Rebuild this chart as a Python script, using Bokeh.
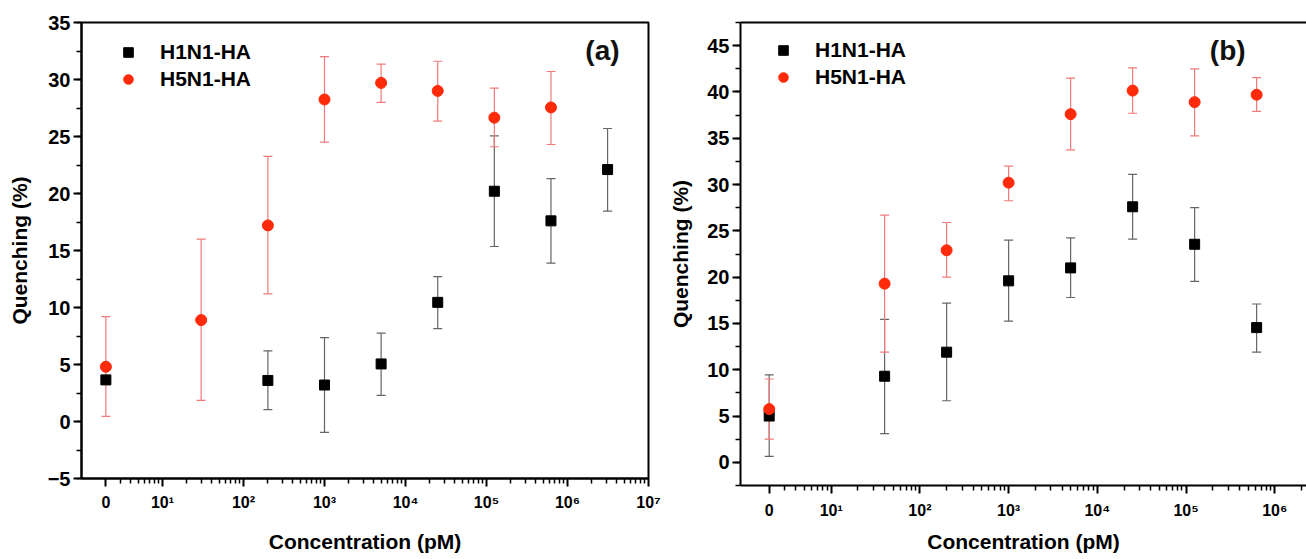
from bokeh.plotting import figure
from bokeh.models import (ColumnDataSource, Whisker, TeeHead, FixedTicker, SingleIntervalTicker,
                          Legend, LegendItem, Label, LogAxis, Range1d)
from bokeh.layouts import row
from bokeh.embed import file_html
from bokeh.resources import INLINE

# ---------------- data ----------------
ZERO_AT = 2  # place on the log axis where the "0 pM" sample is drawn

# panel (a)
a_h1_conc = [0, 200, 1000, 5000, 25000, 125000, 625000, 3125000]
a_h1_val = [3.65, 3.6, 3.2, 5.05, 10.45, 20.2, 17.6, 22.1]
a_h1_lo = [3.65, 1.05, -0.95, 2.3, 8.15, 15.35, 13.9, 18.45]
a_h1_hi = [3.65, 6.2, 7.35, 7.75, 12.7, 25.05, 21.3, 25.7]

a_h5_conc = [0, 30, 200, 1000, 5000, 25000, 125000, 625000]
a_h5_val = [4.8, 8.9, 17.2, 28.25, 29.7, 29.0, 26.65, 27.55]
a_h5_lo = [0.45, 1.85, 11.2, 24.5, 28.0, 26.35, 24.1, 24.3]
a_h5_hi = [9.2, 16.0, 23.25, 32.0, 31.35, 31.6, 29.25, 30.7]

# panel (b)
b_h1_conc = [0, 40, 200, 1000, 5000, 25000, 125000, 625000]
b_h1_val = [5.0, 9.3, 11.9, 19.6, 21.0, 27.6, 23.55, 14.55]
b_h1_lo = [0.65, 3.1, 6.65, 15.25, 17.8, 24.1, 19.55, 11.9]
b_h1_hi = [9.45, 15.45, 17.2, 24.0, 24.25, 31.1, 27.5, 17.1]

b_h5_conc = [0, 40, 200, 1000, 5000, 25000, 125000, 625000]
b_h5_val = [5.75, 19.3, 22.9, 30.2, 37.6, 40.15, 38.9, 39.7]
b_h5_lo = [2.5, 11.9, 20.0, 28.25, 33.75, 37.7, 35.25, 37.9]
b_h5_hi = [9.0, 26.7, 25.9, 32.0, 41.5, 42.6, 42.5, 41.55]

series_names = ["H1N1-HA", "H5N1-HA"]
x_major = [ZERO_AT, 10, 100, 1000, 10**4, 10**5, 10**6, 10**7]
x_major_labels = ["0", "10\u00b9", "10\u00b2", "10\u00b3", "10\u2074", "10\u2075", "10\u2076", "10\u2077"]

FONT = "Liberation Sans"
RED = "#ff2a0a"
RED_BAR = "#f07a7a"
BLACK = "#000000"
BLACK_BAR = "#666666"


def src(conc, val, lo, hi):
    xs = [ZERO_AT if c == 0 else c for c in conc]
    return ColumnDataSource(dict(x=xs, y=val, lo=lo, hi=hi))


def whisker(p, s, color):
    w = Whisker(source=s, base="x", lower="lo", upper="hi", line_color=color, line_width=1.2,
                upper_head=TeeHead(size=9, line_color=color, line_width=1.2),
                lower_head=TeeHead(size=9, line_color=color, line_width=1.2))
    p.add_layout(w)


def style_axes(p, xmax_exp, ylabel_standoff, xlabel_standoff, xtick_standoff):
    xa = p.below[0]
    ya = p.left[0]
    minors = [k for k in range(3, 10)] + [k * 10**d for d in range(1, xmax_exp + 1) for k in range(2, 10)]
    xa.ticker = FixedTicker(ticks=x_major[:xmax_exp + 1], minor_ticks=minors)
    xa.major_label_overrides = {t: l for t, l in zip(x_major, x_major_labels)}
    for ax in (xa, ya):
        ax.axis_line_width = 2
        ax.axis_line_color = "black"
        ax.major_tick_line_width = 2
        ax.minor_tick_line_width = 1.5
        ax.major_tick_line_color = "black"
        ax.minor_tick_line_color = "black"
        ax.major_tick_in = 0
        ax.minor_tick_in = 0
        ax.major_tick_out = 8
        ax.minor_tick_out = 5
        ax.major_label_text_font = FONT
        ax.major_label_text_font_style = "bold"
        ax.major_label_text_color = "black"
        ax.axis_label_text_font = FONT
        ax.axis_label_text_font_style = "bold"
        ax.axis_label_text_font_size = "21px"
        ax.axis_label_text_color = "black"
    xa.major_label_text_font_size = "16px"
    ya.major_label_text_font_size = "20px"
    ya.major_label_standoff = 3
    xa.major_label_standoff = xtick_standoff
    xa.axis_label = "Concentration (pM)"
    ya.axis_label = "Quenching (%)"
    ya.axis_label_standoff = ylabel_standoff
    xa.axis_label_standoff = xlabel_standoff
    ya.ticker = SingleIntervalTicker(interval=5, num_minor_ticks=2)
    p.grid.visible = False


def panel(width, height, xr, yr, borders, data_h1, data_h5, xmax_exp, tag, tag_xy, legend_margin, legend_gw,
          legend_standoff, ylabel_standoff, xlabel_standoff, xtick_standoff, outline):
    p = figure(width=width, height=height, x_axis_type="log", x_range=Range1d(*xr), y_range=Range1d(*yr),
               output_backend="svg", toolbar_location=None,
               min_border_left=borders[0], min_border_right=borders[1],
               min_border_top=borders[2], min_border_bottom=borders[3])
    p.frame_align = False
    p.background_fill_color = "white"
    p.border_fill_color = "white"
    style_axes(p, xmax_exp, ylabel_standoff, xlabel_standoff, xtick_standoff)
    if outline:
        p.outline_line_color = "black"
        p.outline_line_width = 2
        p.outline_line_alpha = 1
    else:
        p.outline_line_color = None
        top = LogAxis(ticker=FixedTicker(ticks=[], minor_ticks=[]), axis_line_width=2, axis_line_color="black",
                      major_tick_line_color=None, minor_tick_line_color=None,
                      major_tick_out=0, minor_tick_out=0, major_label_standoff=0,
                      major_label_text_font_size="0px")
        p.add_layout(top, "above")

    s1 = src(*data_h1)
    s5 = src(*data_h5)
    whisker(p, s1, BLACK_BAR)
    whisker(p, s5, RED_BAR)
    r1 = p.scatter("x", "y", source=s1, marker="square", size=10, fill_color=BLACK, line_color=BLACK)
    r5 = p.scatter("x", "y", source=s5, marker="circle", size=11, fill_color=RED, line_color=RED)

    leg = Legend(items=[LegendItem(label=series_names[0], renderers=[r1]),
                        LegendItem(label=series_names[1], renderers=[r5])],
                 location="top_left", margin=legend_margin, padding=0, glyph_width=legend_gw, glyph_height=24,
                 label_height=24, label_standoff=legend_standoff, spacing=3,
                 background_fill_alpha=0, border_line_color=None,
                 label_text_font=FONT, label_text_font_style="bold", label_text_font_size="21px",
                 label_text_color="black")
    p.add_layout(leg)
    p.add_layout(Label(x=tag_xy[0], y=tag_xy[1], text=tag, text_align="center", text_baseline="middle",
                       text_font=FONT, text_font_style="bold", text_font_size="28px", text_color="#111111"))
    return p


pa = panel(665, 555, (1, 1e7), (-5, 35), (81, 17, 22, 76),
           (a_h1_conc, a_h1_val, a_h1_lo, a_h1_hi), (a_h5_conc, a_h5_val, a_h5_lo, a_h5_hi),
           7, "(a)", (2.7e6, 32.55), 18, 58, 3, 14, 16, 7, True)
pb = panel(641, 555, (10**-0.0225, 10**6.358), (-2.5, 47.5), (75, 0, 22, 69),
           (b_h1_conc, b_h1_val, b_h1_lo, b_h1_hi), (b_h5_conc, b_h5_val, b_h5_lo, b_h5_hi),
           6, "(b)", (2.95e5, 44.5), 16, 54, 5, 12, 8, 8, False)

layout = row(pa, pb)
open("out.html", "w").write(file_html(layout, INLINE))
